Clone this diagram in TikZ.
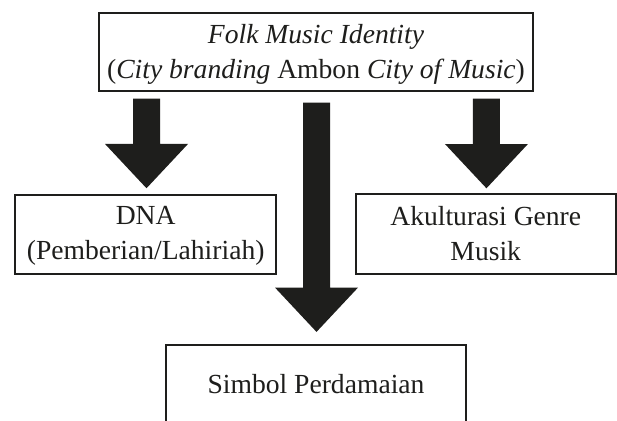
\documentclass[tikz,border=0pt]{standalone}
\usepackage{fontspec}
\setmainfont{Liberation Serif}
\usetikzlibrary{calc}
\definecolor{inkdark}{RGB}{30,30,28}
\newcommand\blockarrow[2]{%
  \fill[inkdark] let \p1=(#1), \p2=(#2) in
    (\x1-13.5pt,\y1) -- (\x1+13.5pt,\y1) -- (\x1+13.5pt,\y2+44.3pt)
    -- (\x1+41.5pt,\y2+44.3pt) -- (\x1,\y2) -- (\x1-41.5pt,\y2+44.3pt)
    -- (\x1-13.5pt,\y2+44.3pt) -- cycle;}
\begin{document}
\begin{tikzpicture}[x=1pt,y=-1pt,
  boxnode/.style={draw=inkdark, line width=2pt, inner sep=0pt, align=center,
    text=inkdark, font=\fontsize{27.6}{35}\selectfont}]
\path[use as bounding box, clip] (0,0) rectangle (617,420);
\fill[white] (0,0) rectangle (617,420);
\node[boxnode, minimum width=434.3pt, minimum height=77.4pt, text depth=1.5pt] (top) at (316,52)
  {\textit{Folk Music Identity}\\(\textit{City branding} Ambon \textit{City of Music})};
\node[boxnode, minimum width=261.3pt, minimum height=78.7pt, text depth=2pt] (dna) at (145.7,234.3)
  {DNA\\(Pemberian/Lahiriah)};
\node[boxnode, minimum width=259.5pt, minimum height=79.2pt] (aku) at (485.75,233.9)
  {Akulturasi Genre\\Musik};
\node[boxnode, minimum width=300pt, minimum height=78pt] (sim) at (316,383.6)
  {Simbol Perdamaian};
\coordinate (s1) at ($(top.south -| dna.north)+(0.8,7)$);
\coordinate (e1) at ($(dna.north)+(0.3,-5.7)$);
\coordinate (s2) at ($(top.south -| aku.north)+(0.7,7)$);
\coordinate (e2) at ($(aku.north)+(0.5,-5.0)$);
\coordinate (s3) at ($(top.south)+(0.5,11)$);
\coordinate (e3) at ($(sim.north)+(0.3,-11.7)$);
\blockarrow{s1}{e1}
\blockarrow{s2}{e2}
\blockarrow{s3}{e3}
\end{tikzpicture}
\end{document}
